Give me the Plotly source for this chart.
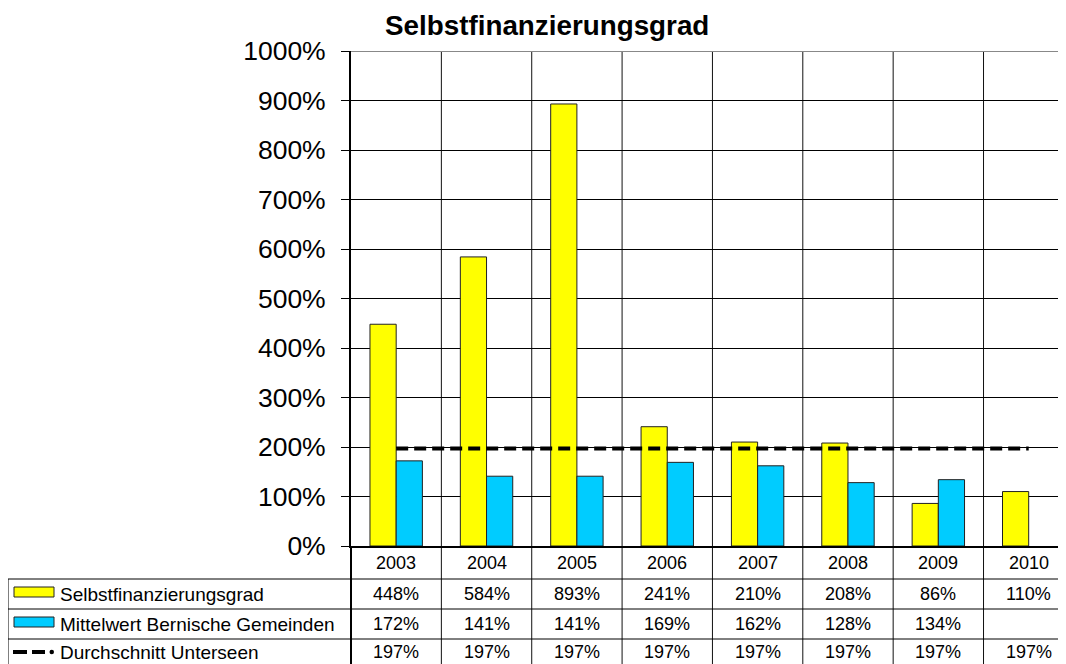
import plotly.graph_objects as go

years = ["2003", "2004", "2005", "2006", "2007", "2008", "2009", "2010"]
selbst = [448, 584, 893, 241, 210, 208, 86, 110]
mittel = [172, 141, 141, 169, 162, 128, 134, None]
durchschnitt = [197, 197, 197, 197, 197, 197, 197, 197]
series_names = ["Selbstfinanzierungsgrad", "Mittelwert Bernische Gemeinden", "Durchschnitt Unterseen"]
title_text = "Selbstfinanzierungsgrad"

OFF = 8  # default body margin of the html page
W_REF, H_REF = 1066, 664
L_REF, T_REF, BOT_REF = 351, 51, 546  # reference pixel geometry of the plot area
W, H = W_REF - OFF, H_REF - OFF
L, T = L_REF - OFF, T_REF - OFF
B = H - (BOT_REF - OFF)
PLOT_H = BOT_REF - T_REF
PLOT_W = W_REF - L_REF

FONT = "Liberation Sans, Arial, sans-serif"


def py(p):
    return (BOT_REF - p) / PLOT_H


def px(p):
    return (p - L_REF) / PLOT_W


xs = list(range(len(years)))
cat_w = 90.36
xr_end = -0.5 + PLOT_W / cat_w

fig = go.Figure()
fig.add_trace(go.Bar(x=xs, y=selbst, name=series_names[0],
                     marker=dict(color="#FFFF00", line=dict(color="#222222", width=1))))
fig.add_trace(go.Bar(x=xs, y=mittel, name=series_names[1],
                     marker=dict(color="#00CCFF", line=dict(color="#222222", width=1))))
fig.add_trace(go.Scatter(x=xs, y=durchschnitt, name=series_names[2], mode="lines",
                         line=dict(color="black", width=4, dash="12px,6px")))

shapes = []
annotations = []

# top border (gray)
shapes.append(dict(type="line", xref="paper", yref="y", x0=0, x1=1, y0=1000, y1=1000,
                   line=dict(color="#888888", width=2), layer="above"))
# vertical category separators through plot and table
for k in range(len(years)):
    shapes.append(dict(type="line", xref="x", yref="paper", x0=k + 0.5, x1=k + 0.5,
                       y0=py(H_REF + 5), y1=1, line=dict(color="#111111", width=1), layer="below"))
# left axis continuation into table
shapes.append(dict(type="line", xref="paper", yref="paper", x0=0, x1=0,
                   y0=py(H_REF + 5), y1=0, line=dict(color="black", width=2)))
# legend column left border
shapes.append(dict(type="line", xref="paper", yref="paper", x0=px(8), x1=px(8),
                   y0=py(H_REF + 5), y1=py(579), line=dict(color="black", width=1)))
# table horizontal lines
for yy in [579, 609, 639]:
    shapes.append(dict(type="line", xref="paper", yref="paper", x0=px(8), x1=1,
                       y0=py(yy), y1=py(yy), line=dict(color="black", width=1)))

# legend keys
shapes.append(dict(type="rect", xref="paper", yref="paper", x0=px(14), x1=px(54),
                   y0=py(597), y1=py(587), fillcolor="#FFFF00", line=dict(color="#222222", width=1)))
shapes.append(dict(type="rect", xref="paper", yref="paper", x0=px(14), x1=px(54),
                   y0=py(627), y1=py(617), fillcolor="#00CCFF", line=dict(color="#222222", width=1)))
for a, b in [(13, 27), (32, 45)]:
    shapes.append(dict(type="line", xref="paper", yref="paper", x0=px(a), x1=px(b),
                       y0=py(652), y1=py(652), line=dict(color="black", width=4)))
shapes.append(dict(type="circle", xref="paper", yref="paper", x0=px(49.5), x1=px(54),
                   y0=py(654.2), y1=py(649.8), fillcolor="black", line=dict(color="black", width=0)))

# title
annotations.append(dict(text="<b>" + title_text + "</b>", xref="paper", yref="paper",
                        x=px(546.5), y=py(25), showarrow=False, xanchor="center", yanchor="middle",
                        font=dict(family=FONT, size=27.8, color="black")))

# table text
row_centers = [563, 594, 624, 652]
for i, yr in enumerate(years):
    annotations.append(dict(text=yr, xref="x", yref="paper", x=i, y=py(row_centers[0]),
                            showarrow=False, xanchor="center", yanchor="middle",
                            font=dict(family=FONT, size=18, color="black")))
for r, vals in enumerate([selbst, mittel, durchschnitt]):
    for i, v in enumerate(vals):
        if v is None:
            continue
        annotations.append(dict(text=f"{v}%", xref="x", yref="paper", x=i, y=py(row_centers[r + 1]),
                                showarrow=False, xanchor="center", yanchor="middle",
                                font=dict(family=FONT, size=18, color="black")))
    annotations.append(dict(text=series_names[r], xref="paper", yref="paper", x=px(58),
                            y=py(row_centers[r + 1]), showarrow=False, xanchor="left",
                            yanchor="middle", font=dict(family=FONT, size=19, color="black")))

fig.update_layout(
    width=W, height=H,
    margin=dict(l=L, r=0, t=T, b=B, pad=0),
    paper_bgcolor="white", plot_bgcolor="white",
    showlegend=False,
    barmode="group", bargap=0.42, bargroupgap=0,
    shapes=shapes, annotations=annotations,
    font=dict(family=FONT, color="black"),
)
fig.update_xaxes(range=[-0.5, xr_end], showticklabels=False, showgrid=False, zeroline=False,
                 showline=True, linecolor="black", linewidth=2, ticks="", fixedrange=True)
fig.update_yaxes(range=[0, 1000], tickvals=[0, 100, 200, 300, 400, 500, 600, 700, 800, 900, 1000],
                 ticktext=[f"{v}%" for v in [0, 100, 200, 300, 400, 500, 600, 700, 800, 900, 1000]],
                 showgrid=True, gridcolor="black", gridwidth=1, zeroline=False,
                 showline=True, linecolor="black", linewidth=2,
                 ticks="outside", ticklen=8, tickcolor="black", tickwidth=1,
                 ticklabelstandoff=10,
                 tickfont=dict(family=FONT, size=26.5, color="black"), fixedrange=True)

fig.write_html("out.html")
